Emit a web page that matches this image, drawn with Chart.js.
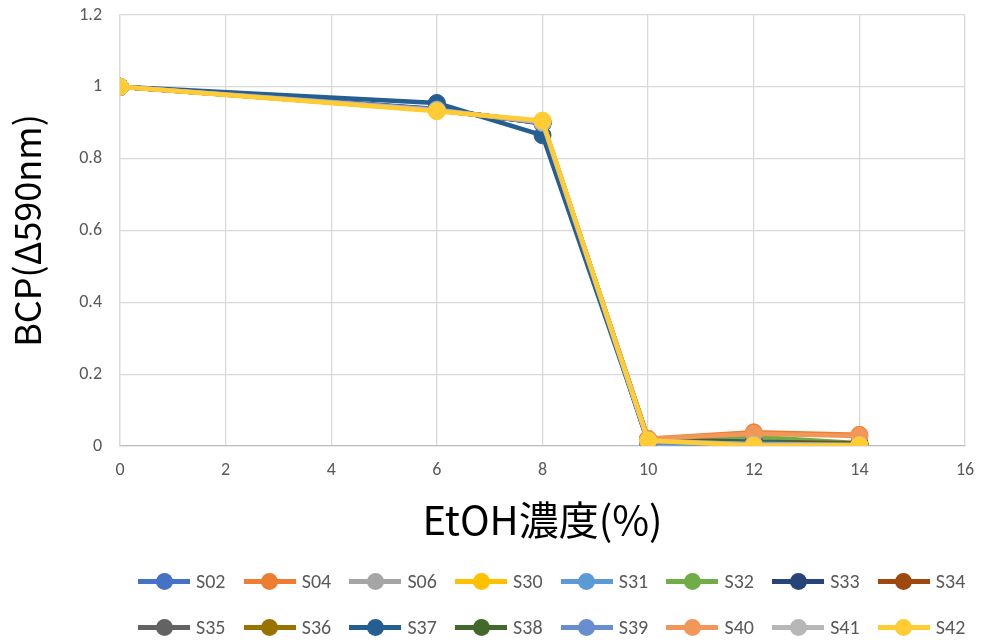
<!DOCTYPE html>
<html>
<head>
<meta charset="utf-8">
<script src="https://cdn.jsdelivr.net/npm/chart.js@4/dist/chart.umd.min.js"></script>
<style>
  body { margin: 0; background: #fff; }
  #wrap { position: relative; width: 986px; height: 644px; }
  #box { position: absolute; left: 0; top: 0; width: 986px; height: 560px; }
  #legend { position: absolute; left: 138px; top: 558px; width: 848px; display: flex; flex-wrap: wrap; }
  .item { width: 105.7px; height: 46px; display: flex; align-items: center; font-family: Carlito, "Liberation Sans Narrow", "Open Sans", sans-serif; font-size: 20px; color: #595959; }
  .mark { position: relative; width: 52px; height: 18px; margin-right: 6px; flex: none; }
  .mark .ln { position: absolute; left: 0; top: 7px; width: 52px; height: 4.5px; }
  .mark .dot { position: absolute; left: 17.5px; top: 0.5px; width: 17px; height: 17px; border-radius: 50%; }
</style>
</head>
<body>
<div id="wrap">
  <div id="box"><canvas id="chart"></canvas></div>
  <div id="legend"></div>
</div>
<script>
// EtOH concentration (%)
const etoh = [0, 6, 8, 10, 12, 14];

const seriesNames = ['S02', 'S04', 'S06', 'S30', 'S31', 'S32', 'S33', 'S34',
                     'S35', 'S36', 'S37', 'S38', 'S39', 'S40', 'S41', 'S42'];

const seriesColors = ['#4472C4', '#ED7D31', '#A5A5A5', '#FFC000', '#5B9BD5', '#70AD47', '#264478', '#9E480E',
                      '#636363', '#997300', '#255E91', '#43682B', '#698ED0', '#F1975A', '#B7B7B7', '#FFCD33'];

// BCP (delta 590nm), one row per series
const s02 = [1, 0.936, 0.900, 0.010, 0.008, 0.004];
const s04 = [1, 0.935, 0.900, 0.020, 0.038, 0.031];
const s06 = [1, 0.935, 0.902, 0.015, 0.006, 0.003];
const s30 = [1, 0.934, 0.903, 0.016, 0.002, 0.002];
const s31 = [1, 0.937, 0.899, 0.008, 0.004, 0.002];
const s32 = [1, 0.936, 0.900, 0.018, 0.026, 0.008];
const s33 = [1, 0.938, 0.898, 0.012, 0.010, 0.004];
const s34 = [1, 0.936, 0.900, 0.019, 0.012, 0.008];
const s35 = [1, 0.936, 0.899, 0.014, 0.007, 0.004];
const s36 = [1, 0.935, 0.901, 0.016, 0.006, 0.004];
const s37 = [1, 0.955, 0.865, 0.015, 0.012, 0.004];
const s38 = [1, 0.936, 0.900, 0.017, 0.010, 0.005];
const s39 = [1, 0.937, 0.899, 0.011, 0.006, 0.003];
const s40 = [1, 0.934, 0.902, 0.020, 0.034, 0.028];
const s41 = [1, 0.935, 0.902, 0.015, 0.004, 0.003];
const s42 = [1, 0.932, 0.906, 0.015, 0.001, 0.002];

const seriesValues = [s02, s04, s06, s30, s31, s32, s33, s34, s35, s36, s37, s38, s39, s40, s41, s42];

const xTicks = [0, 2, 4, 6, 8, 10, 12, 14, 16];
const yTicks = [0, 0.2, 0.4, 0.6, 0.8, 1, 1.2];

const tickFont = { family: 'Carlito, "Liberation Sans Narrow", "Open Sans", sans-serif', size: 18 };
const titleFont = { family: '"Noto Sans CJK JP", "Open Sans", sans-serif', size: 36 };

const datasets = seriesNames.map((name, i) => ({
    label: name,
    data: etoh.map((x, j) => ({ x: x, y: seriesValues[i][j] })),
    borderColor: seriesColors[i],
    backgroundColor: seriesColors[i],
    pointBackgroundColor: seriesColors[i],
    pointBorderColor: seriesColors[i],
    borderWidth: 4.5,
    pointRadius: 8.5,
    pointBorderWidth: 1,
    order: seriesNames.length - i   // last series ends up on top, like Excel
}));

new Chart(document.getElementById('chart'), {
    type: 'line',
    data: { datasets: datasets },
    options: {
        responsive: true,
        maintainAspectRatio: false,
        animation: false,
        layout: { autoPadding: false, padding: { top: 15, right: 21, left: 0, bottom: 0 } },
        plugins: { legend: { display: false }, tooltip: { enabled: false } },
        scales: {
            x: {
                type: 'linear',
                min: 0, max: 16,
                afterBuildTicks: s => { s.ticks = xTicks.map(v => ({ value: v })); },
                afterFit: s => { s.height = 114; s.paddingLeft = 0; s.paddingRight = 0; },
                ticks: { font: tickFont, color: '#595959', padding: 14 },
                grid: { color: '#d9d9d9', lineWidth: 1.3, drawTicks: false },
                border: { color: '#bfbfbf', width: 1.3 },
                title: { display: true, text: 'EtOH濃度(%)', font: { family: titleFont.family, size: 40 }, color: '#000', padding: { bottom: 16 } }
            },
            y: {
                min: 0, max: 1.2,
                afterBuildTicks: s => { s.ticks = yTicks.map(v => ({ value: v })); },
                afterFit: s => { s.width = 120; s.paddingTop = 0; s.paddingBottom = 0; },
                ticks: { font: tickFont, color: '#595959', padding: 18, callback: v => String(Math.round(v * 10) / 10) },
                grid: { color: '#d9d9d9', lineWidth: 1.3, drawTicks: false },
                border: { color: '#d9d9d9', width: 1.3 },
                title: { display: true, text: 'BCP(Δ590nm)', font: titleFont, color: '#000', padding: { top: 6 } }
            }
        }
    }
});

// legend: two rows of eight, line + marker like the Excel original
const legend = document.getElementById('legend');
seriesNames.forEach((name, i) => {
    const item = document.createElement('div');
    item.className = 'item';
    item.innerHTML = '<span class="mark"><span class="ln" style="background:' + seriesColors[i] + '"></span>' +
        '<span class="dot" style="background:' + seriesColors[i] + '"></span></span><span>' + name + '</span>';
    legend.appendChild(item);
});
</script>
</body>
</html>
